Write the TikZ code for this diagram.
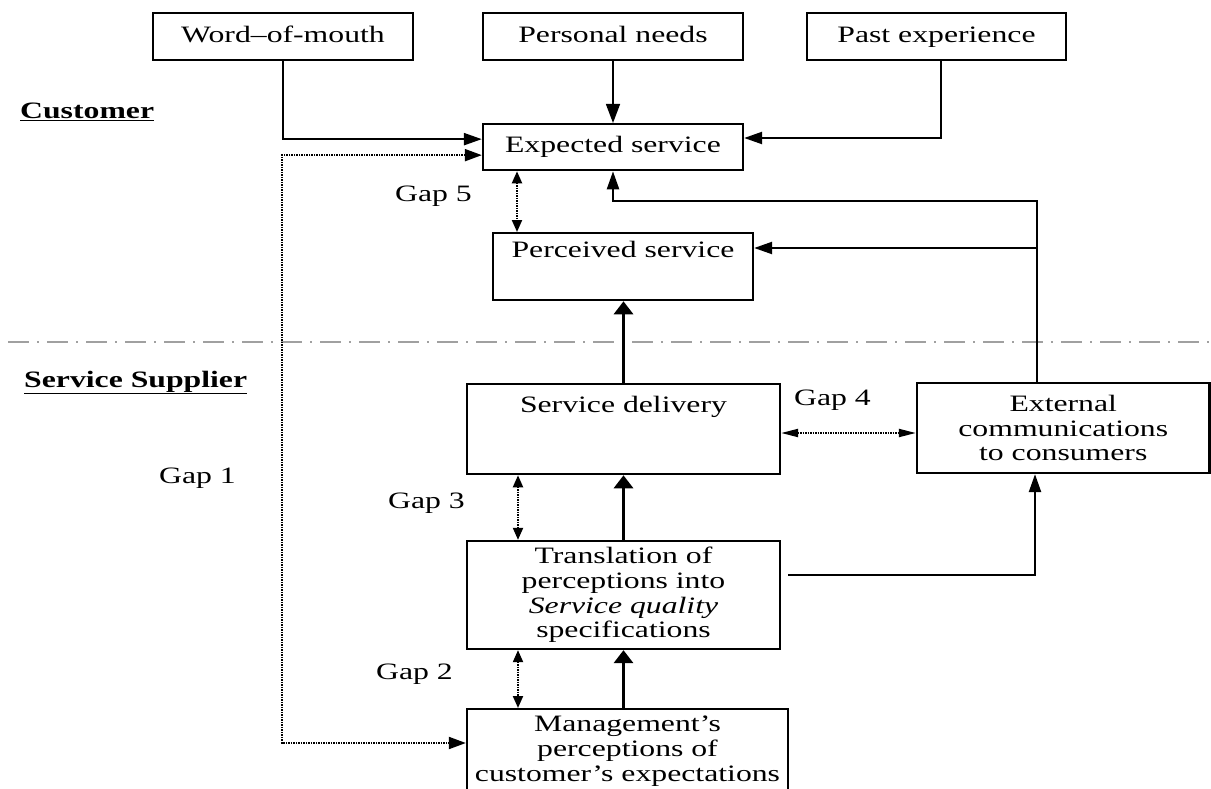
\documentclass[tikz,border=0pt]{standalone}
\usepackage{fontspec}
\setmainfont{Liberation Serif}[FakeStretch=1.35]
\usetikzlibrary{arrows.meta,calc}
\definecolor{divgray}{HTML}{A0A0A0}
\setlength{\lineskiplimit}{-50pt}
\begin{document}
\begin{tikzpicture}[x=1pt,y=-1pt,
  every node/.style={font=\fontsize{23.5}{24.7}\selectfont, inner sep=0pt},
  box/.style={draw, line width=2.3pt, align=center},
  conn/.style={line width=2.3pt, -{Triangle[length=18pt,width=12pt]}},
  thinconn/.style={line width=1.4pt, -{Triangle[length=19pt,width=14pt]}},
  thickconn/.style={line width=3.2pt, -{Triangle[length=13pt,width=19pt]}},
  dotline/.style={line width=2pt, dash pattern=on 1.4pt off 1.1pt},
  gapdot/.style={dotline, {Triangle[length=12pt,width=10pt]}-{Triangle[length=12pt,width=10pt]}},
  gapfour/.style={dotline, {Triangle[length=17pt,width=8pt]}-{Triangle[length=17pt,width=8pt]}},
  gapone/.style={dotline, {Triangle[length=17pt,width=12pt]}-{Triangle[length=17pt,width=12pt]}},
  gaplabel/.style={anchor=base west}]
\useasboundingbox (0,0) rectangle (1211,789);
\clip (0,0) rectangle (1211,789);

% boxes
\node[box, minimum width=260pt, text height=29.7pt, text depth=17.3pt, anchor=north] (wom) at (283,12) {Word–of-mouth};
\node[box, minimum width=260pt, text height=29.7pt, text depth=17.3pt, anchor=north] (pn) at (613,12) {Personal needs};
\node[box, minimum width=259pt, text height=29.7pt, text depth=17.3pt, anchor=north] (pe) at (936.5,12) {Past experience};
\node[box, minimum width=260pt, text height=28pt, text depth=18pt, anchor=north] (exp) at (613,123) {Expected service};
\node[box, minimum width=260pt, text height=24pt, text depth=43pt, anchor=north] (per) at (623,232) {Perceived service};
\node[box, minimum width=313pt, text height=28pt, text depth=62pt, anchor=north] (sd) at (623.5,383) {Service delivery};
\node[box, minimum width=292.5pt, minimum height=90pt] (ext) at (1063.25,428) {External\\communications\\to consumers};
\node[box, minimum width=313pt, minimum height=108pt] (tr) at (623.5,595) {Translation of\\perceptions into\\\textit{Service quality}\\specifications};
\node[box, minimum width=321pt, inner ysep=7pt, anchor=north] (mg) at (627.5,708) {Management’s\\perceptions of\\customer’s expectations\rule[-14pt]{0pt}{0pt}};

% labels
\node[anchor=base west] (cust) at (20,119) {\underline{\textbf{Customer}}};
\node[anchor=base west] (supp) at (24,387) {\underline{\textbf{Service Supplier}}};
\node[gaplabel] (g1) at (159,483) {Gap 1};
\node[gaplabel] (g2) at (376,679) {Gap 2};
\node[gaplabel] (g3) at (388,508) {Gap 3};
\node[gaplabel] (g4) at (794,405) {Gap 4};
\node[gaplabel] (g5) at (395,201.7) {Gap 5};

% divider
\coordinate (divl) at (8,342);
\coordinate (divr) at (1211,342);
\draw[divgray, line width=2pt, dash pattern=on 21pt off 8pt on 2pt off 8pt] (divl) -- (divr);

% helper coordinates
\coordinate (g1c) at (282,743);
\coordinate (pec) at (941,138);
\coordinate (fb) at (1037,201);
\coordinate (fb2) at (1037,248);
\coordinate (g5x) at (517,0);
\coordinate (g3x) at (518,0);
\coordinate (g4y) at (0,433);
\coordinate (te) at (1035,575);

% connectors
\draw[conn] (wom.south) |- ($(exp.west)+(0,-8)$);
\draw[gapone] ($(exp.west)+(0,8)$) -| (g1c) -- (mg.west |- g1c);
\draw[thinconn] (pn.south) -- (exp.north);
\draw[conn] (pe.south -| pec) |- (exp.east |- pec);
\draw[conn] (ext.north -| fb) -- (fb) -| (exp.south);
\draw[conn] (fb2) -- (per.east |- fb2);
\draw[gapdot] (exp.south -| g5x) -- (per.north -| g5x);
\draw[thickconn] (sd.north) -- (sd.north |- per.south);
\draw[gapfour] (sd.east |- g4y) -- (ext.west |- g4y);
\draw[thickconn] (tr.north) -- (sd.south);
\draw[conn] ($(tr.east |- te)+(7,0)$) -| (ext.south -| te);
\draw[gapdot] (sd.south -| g3x) -- (tr.north -| g3x);
\draw[thickconn] (mg.north -| tr.south) -- (tr.south);
\draw[gapdot] (tr.south -| g3x) -- (mg.north -| g3x);
\end{tikzpicture}
\end{document}
